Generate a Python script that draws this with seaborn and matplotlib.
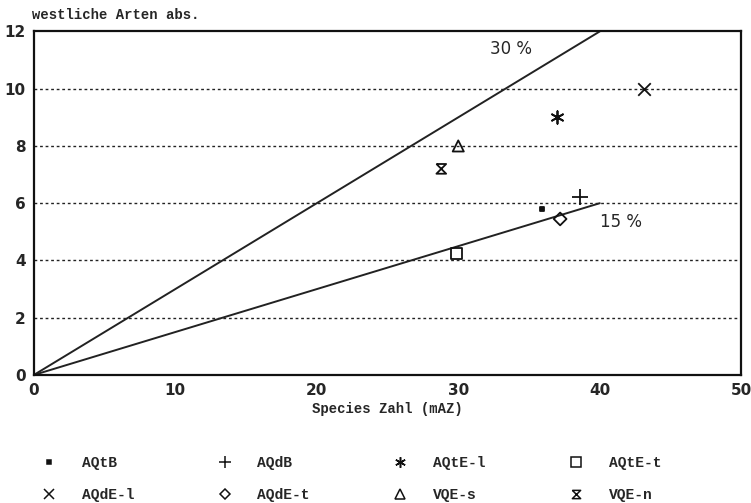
import matplotlib
matplotlib.use("Agg")
import matplotlib.pyplot as plt
import seaborn as sns
import pandas as pd

# Vegetation units and their counts
units = ["AQtB", "AQdB", "AQtE-l", "AQtE-t", "AQdE-l", "AQdE-t", "VQE-s", "VQE-n"]
species_total = [35.9, 38.6, 37.0, 29.85, 43.1, 37.2, 30.0, 28.8]
western_species = [5.8, 6.2, 9.0, 4.25, 10.0, 5.45, 8.0, 7.2]

# Reference proportion lines
ref_rates = [0.30, 0.15]
ref_labels = ["30 %", "15 %"]
ref_x = [0, 40]

x_ticks = [0, 10, 20, 30, 40, 50]
y_ticks = [0, 2, 4, 6, 8, 10, 12]

sns.set_theme(style="white")
plt.rcParams["font.family"] = ["DejaVu Sans"]

INK = "#111111"
hourglass = [(-1, 1), (1, 1), (-1, -1), (1, -1), (-1, 1)]
markers = {
    "AQtB": "s", "AQdB": "+", "AQtE-l": (6, 2, 0), "AQtE-t": "s",
    "AQdE-l": "x", "AQdE-t": "D", "VQE-s": "^", "VQE-n": hourglass,
}
sizes = {
    "AQtB": 3, "AQdB": 11, "AQtE-l": 9, "AQtE-t": 8,
    "AQdE-l": 9, "AQdE-t": 6.5, "VQE-s": 8, "VQE-n": 7,
}
# markers drawn as solid ink (filled dot and pure line markers)
solid = {"AQtB", "AQdB", "AQtE-l", "AQdE-l"}

df = pd.DataFrame({"unit": units, "total": species_total, "western": western_species})

fig = plt.figure(figsize=(7.51, 5.03), dpi=100)
ax = fig.add_axes([0.045, 0.2545, 0.942, 0.683])

for rate in ref_rates:
    line_df = pd.DataFrame({"x": ref_x, "y": [rate * v for v in ref_x]})
    sns.lineplot(data=line_df, x="x", y="y", ax=ax, color="#222222", lw=1.4)

handles = {}
for _, row in df.iterrows():
    u = row["unit"]
    face = INK if u in solid else "none"
    sns.scatterplot(x=[row["total"]], y=[row["western"]], ax=ax,
                    marker=markers[u], s=sizes[u] ** 2,
                    facecolor=face, edgecolor=INK, linewidth=1.3,
                    zorder=5)
    handles[u] = plt.Line2D([], [], ls="none", marker=markers[u],
                            markersize=sizes[u] * 0.85,
                            markerfacecolor=face if u == "AQtB" else "none",
                            markeredgecolor=INK,
                            markeredgewidth=1.1, color=INK)

for y in y_ticks[1:-1]:
    ax.axhline(y, color="#222222", lw=1.0, ls=(0, (2, 2)), zorder=1)

ax.text(33.7, 11.4, ref_labels[0], fontsize=12, ha="center", va="center")
ax.text(41.5, 5.35, ref_labels[1], fontsize=12, ha="center", va="center")

ax.set_xlim(0, 50)
ax.set_ylim(0, 12)
ax.set_xticks(x_ticks)
ax.set_yticks(y_ticks)
ax.tick_params(direction="in", length=6, width=1.2, color=INK,
               labelsize=11, pad=6)
for lab in ax.get_xticklabels() + ax.get_yticklabels():
    lab.set_fontweight("bold")
for s in ax.spines.values():
    s.set_color(INK)
    s.set_linewidth(1.6)

ax.set_xlabel("Species Zahl (mAZ)", fontsize=10, fontweight="bold",
              family="Liberation Mono", labelpad=3)
ax.set_ylabel("")
fig.text(0.043, 0.970, "westliche Arten abs.", fontsize=10, fontweight="bold",
         family="Liberation Mono", ha="left", va="center")

# legend: 2 rows x 4 columns, filled column by column
order = ["AQtB", "AQdE-l", "AQdB", "AQdE-t", "AQtE-l", "VQE-s", "AQtE-t", "VQE-n"]
leg = fig.legend([handles[u] for u in order], order, ncol=4, frameon=False,
                 loc="lower left", bbox_to_anchor=(0.033, -0.024),
                 prop={"family": "Liberation Mono", "weight": "bold", "size": 10.5},
                 columnspacing=5.45, handletextpad=1.5, labelspacing=1.23,
                 handlelength=1.5)

fig.savefig("out.png", dpi=100)
